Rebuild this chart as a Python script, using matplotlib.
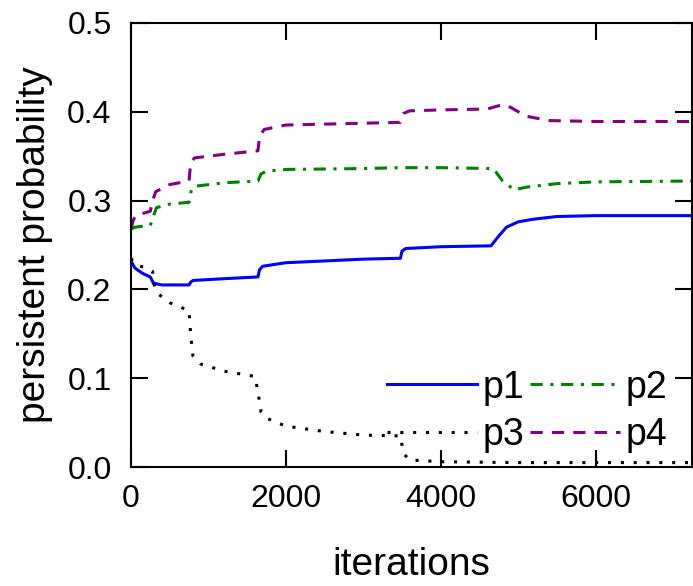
import matplotlib
matplotlib.use("Agg")
import matplotlib.pyplot as plt

plt.rcParams['font.family'] = ['Liberation Sans', 'DejaVu Sans']

# p1 .. p4 traces over the run
p1_iter = [0, 50, 150, 250, 290, 400, 750, 770, 800, 1200, 1640, 1660, 1700, 2000, 2500, 3000, 3480,
           3500, 3550, 4000, 4650, 4750, 4850, 5000, 5200, 5500, 6000, 7300]
p1_prob = [0.232, 0.224, 0.218, 0.214, 0.207, 0.205, 0.205, 0.208, 0.210, 0.212, 0.214, 0.222, 0.226,
           0.230, 0.232, 0.234, 0.235, 0.243, 0.246, 0.248, 0.249, 0.260, 0.270, 0.276, 0.279, 0.282,
           0.283, 0.283]

p2_iter = [0, 50, 250, 300, 330, 500, 750, 780, 820, 1200, 1640, 1680, 1750, 2000, 3000, 3500, 4000,
           4680, 4800, 4950, 5100, 5500, 6000, 7300]
p2_prob = [0.268, 0.270, 0.272, 0.285, 0.292, 0.296, 0.298, 0.312, 0.316, 0.320, 0.322, 0.330, 0.333,
           0.335, 0.336, 0.337, 0.337, 0.336, 0.322, 0.312, 0.315, 0.319, 0.321, 0.322]

p3_iter = [0, 50, 200, 280, 300, 350, 500, 750, 770, 800, 900, 1200, 1600, 1640, 1680, 1750, 2000,
           2500, 3000, 3480, 3520, 3600, 4000, 5000, 7300]
p3_prob = [0.235, 0.228, 0.224, 0.220, 0.205, 0.195, 0.185, 0.176, 0.150, 0.125, 0.116, 0.108, 0.102,
           0.085, 0.062, 0.055, 0.046, 0.040, 0.036, 0.035, 0.015, 0.008, 0.006, 0.005, 0.005]

p4_iter = [0, 30, 60, 250, 280, 320, 500, 750, 770, 820, 1200, 1640, 1660, 1720, 2000, 3000, 3480,
           3520, 3600, 4000, 4600, 4800, 4900, 5100, 5400, 6000, 7300]
p4_prob = [0.268, 0.278, 0.283, 0.288, 0.300, 0.310, 0.318, 0.322, 0.342, 0.348, 0.352, 0.356, 0.372,
           0.380, 0.385, 0.387, 0.388, 0.398, 0.401, 0.402, 0.403, 0.408, 0.405, 0.395, 0.390, 0.389,
           0.389]

fig = plt.figure(figsize=(6.93, 5.86), dpi=100)
ax = fig.add_axes([0.189, 0.203, 0.81, 0.758])

lw = 2.2
l1, = ax.plot(p1_iter, p1_prob, color='#0000ff', lw=lw, label='p1')
l2, = ax.plot(p2_iter, p2_prob, color='#008000', lw=lw, dashes=(4, 2.5, 1, 2.5), label='p2')
l3, = ax.plot(p3_iter, p3_prob, color='black', lw=lw, dashes=(1, 3.2), label='p3')
l4, = ax.plot(p4_iter, p4_prob, color='#800080', lw=lw, dashes=(4, 3), label='p4')

ax.set_xlim(0, 7250)
ax.set_ylim(0, 0.5)
ax.set_xticks([0, 2000, 4000, 6000])
ax.set_yticks([0.0, 0.1, 0.2, 0.3, 0.4, 0.5])
ax.set_yticklabels(['0.0', '0.1', '0.2', '0.3', '0.4', '0.5'])
ax.tick_params(direction='in', length=12, width=1.5, labelsize=23, top=True, right=True, pad=12)
ax.tick_params(axis='y', pad=14)
for s in ax.spines.values():
    s.set_linewidth(1.5)

ax.set_xlabel('iterations', fontsize=28, labelpad=24)
ax.set_ylabel('persistent probability', fontsize=28, labelpad=10)

# column-major fill, so order gives rows p1 p2 / p3 p4
ax.legend([l1, l3, l2, l4], ['p1', 'p3', 'p2', 'p4'], loc='lower right', ncol=2, frameon=False,
          fontsize=27, handlelength=2.4, handletextpad=0.15, columnspacing=0.15, labelspacing=0.3,
          borderaxespad=0.0, borderpad=0.0, bbox_to_anchor=(0.955, 0.032))

fig.savefig('out.png', dpi=100)
